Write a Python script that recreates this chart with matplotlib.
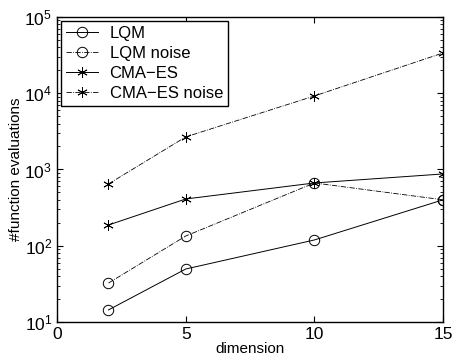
import matplotlib
matplotlib.use("Agg")
from matplotlib import pyplot as plt
import numpy as np

plt.rcParams['font.family'] = ['Liberation Sans', 'DejaVu Sans']

dims = [2, 5, 10, 15]
lqm = [14.4, 49.5, 119, 400]
lqm_noise = [32.4, 134, 665, 400]
cma = [187, 410, 665, 873]
cma_noise = [646, 2670, 9200, 33700]

fig = plt.figure(figsize=(4.54, 3.6), dpi=100)
ax = fig.add_axes([0.1256, 0.1056, 0.8504, 0.8474])

star = (6, 2, 0)
ax.semilogy(dims, lqm, '-', color='k', lw=0.7, marker='o', ms=7.5,
            mfc='none', mec='k', mew=0.7, label='LQM')
ax.semilogy(dims, lqm_noise, '-.', color='k', lw=0.6, marker='o', ms=7.5,
            mfc='none', mec='k', mew=0.7, label='LQM noise')
ax.semilogy(dims, cma, '-', color='k', lw=0.7, marker=star, ms=7.5,
            mec='k', mew=0.6, label='CMA\u2212ES')
ax.semilogy(dims, cma_noise, '-.', color='k', lw=0.6, marker=star, ms=7.5,
            mec='k', mew=0.6, label='CMA\u2212ES noise')

ax.set_xlim(0, 15)
ax.set_ylim(10, 1e5)
ax.set_xticks([0, 5, 10, 15])
ax.tick_params(which='both', direction='in', top=True, right=True, labelsize=12.5)
ax.tick_params(which='major', length=4)
ax.tick_params(which='minor', length=2)
for s in ax.spines.values():
    s.set_linewidth(1.0)

ax.set_xlabel('dimension', fontsize=11, labelpad=0)
ax.set_ylabel('#function evaluations', fontsize=11, labelpad=1)

leg = ax.legend(loc='upper left', fontsize=12, handlelength=1.9,
                borderaxespad=0.25, labelspacing=0.3, fancybox=False,
                edgecolor='k', framealpha=1, borderpad=0.3, handletextpad=0.7)
leg.get_frame().set_linewidth(1.0)

fig.savefig("out.png", dpi=100)
